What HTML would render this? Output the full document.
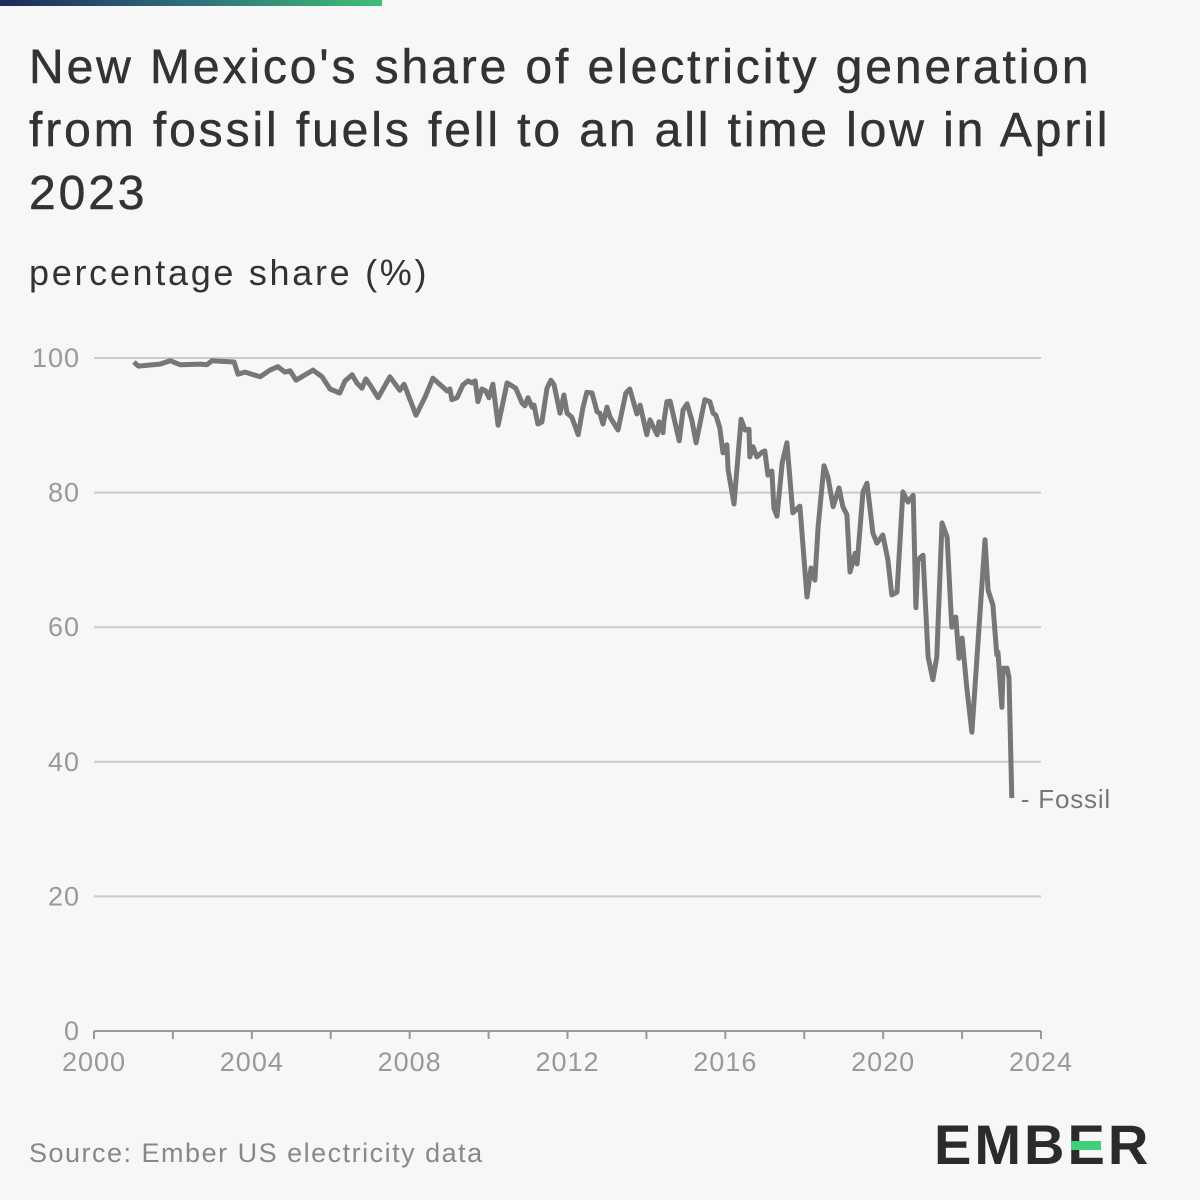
<!DOCTYPE html>
<html><head><meta charset="utf-8">
<style>
body{margin:0;background:#f7f7f7;font-family:"Liberation Sans",sans-serif;}
#wrap{position:relative;width:1200px;height:1200px;overflow:hidden;background:#f7f7f7;}
.t{position:absolute;white-space:nowrap;}
</style></head><body>
<div id="wrap">
<div style="position:absolute;left:0;top:0;width:382px;height:6px;background:linear-gradient(90deg,#1e2a5a,#2f6f7a,#3fbf74);"></div>
<div class="t" style="left:29px;top:36px;font-size:48px;line-height:63px;color:#333;letter-spacing:2.9px;-webkit-text-stroke:0.5px #333;">New Mexico's share of electricity generation<br>from fossil fuels fell to an all time low in April<br>2023</div>
<div class="t" style="left:29px;top:252px;font-size:36px;color:#333;letter-spacing:2.7px;">percentage share (%)</div>
<svg id="chart" width="1200" height="1200" style="position:absolute;left:0;top:0;"></svg>
<div class="t" style="left:29px;top:1138px;font-size:27px;color:#888;letter-spacing:1.5px;">Source: Ember US electricity data</div>
<div class="t" style="left:934px;top:1112px;font-size:56px;font-weight:bold;color:#2b2b2b;letter-spacing:3px;">EMB<span style="position:relative;">E<span style="position:absolute;left:4px;top:28px;width:30px;height:9px;background:#3fd17a;"></span></span>R</div>
</div>
<script>
const yearOffsets=[1.01,1.12,1.67,1.93,2.18,2.69,2.86,2.99,3.55,3.65,3.83,4.21,4.46,4.66,4.84,4.97,5.12,5.35,5.55,5.78,5.98,6.23,6.36,6.54,6.66,6.79,6.89,7.02,7.20,7.50,7.75,7.86,8.16,8.39,8.59,8.95,9.02,9.07,9.20,9.35,9.48,9.58,9.66,9.73,9.83,9.93,10.01,10.11,10.24,10.47,10.69,10.85,10.92,11.00,11.10,11.15,11.25,11.35,11.48,11.58,11.66,11.81,11.91,11.99,12.11,12.27,12.39,12.49,12.62,12.75,12.82,12.90,13.00,13.08,13.28,13.48,13.58,13.76,13.84,14.01,14.09,14.27,14.32,14.42,14.44,14.52,14.60,14.83,14.93,15.03,15.15,15.26,15.48,15.61,15.69,15.76,15.86,15.94,16.04,16.07,16.22,16.40,16.50,16.60,16.62,16.70,16.80,16.93,17.00,17.08,17.18,17.23,17.31,17.44,17.56,17.71,17.89,18.07,18.17,18.27,18.35,18.50,18.60,18.73,18.88,18.98,19.08,19.16,19.29,19.34,19.49,19.59,19.74,19.84,19.99,20.12,20.22,20.35,20.50,20.63,20.76,20.83,20.88,21.01,21.14,21.26,21.36,21.49,21.62,21.74,21.84,21.92,22.00,22.12,22.25,22.58,22.66,22.78,22.88,22.91,23.01,23.04,23.14,23.19,23.26];
const fossilShare=[99.4,98.8,99.1,99.6,99.0,99.1,99.0,99.6,99.4,97.6,97.9,97.2,98.2,98.7,97.9,98.1,96.7,97.5,98.2,97.2,95.4,94.8,96.6,97.5,96.3,95.5,96.9,95.8,94.1,97.2,95.2,96.1,91.5,94.2,97.0,95.1,95.4,93.8,94.1,96.0,96.6,96.3,96.6,93.5,95.4,95.1,94.1,96.1,90.0,96.3,95.5,93.3,92.9,94.1,92.7,93.0,90.2,90.5,95.5,96.7,96.0,91.8,94.5,91.8,91.2,88.6,92.6,94.9,94.8,92.0,91.8,90.2,92.7,91.2,89.3,94.8,95.4,91.7,93.0,88.6,90.8,88.6,90.5,88.9,90.5,93.5,93.6,87.7,92.3,93.2,90.8,87.4,93.8,93.5,91.8,91.5,89.6,85.9,87.1,83.4,78.3,90.9,89.3,89.4,85.3,86.8,85.3,86.0,86.2,82.6,83.2,77.7,76.5,84.4,87.4,77.0,78.0,64.5,68.8,67.0,74.9,84.0,82.3,77.9,80.7,77.9,76.7,68.2,71.0,69.4,80.1,81.4,74.0,72.5,73.7,70.0,64.8,65.2,80.1,78.6,79.6,62.9,70.0,70.7,55.6,52.2,55.6,75.5,73.4,60.0,61.5,55.4,58.4,51.0,44.4,73.0,65.5,63.3,55.9,56.3,48.1,53.9,53.9,52.5,34.6];
const yTicks=[0,20,40,60,80,100];
const xTicks=[2000,2004,2008,2012,2016,2020,2024];
const seriesLabel="Fossil";

const NS="http://www.w3.org/2000/svg";
const svg=document.getElementById('chart');
const X0=94,X1=1041,Y0=1031,Y1=358;
const xs=yr=>X0+(yr-2000)/24*(X1-X0);
const ys=v=>Y0-v/100*(Y0-Y1);
function mk(tag,attrs){const e=document.createElementNS(NS,tag);for(const k in attrs)e.setAttribute(k,attrs[k]);svg.appendChild(e);return e;}
yTicks.forEach(v=>{
  if(v>0){const g=mk('line',{x1:X0,x2:X1,y1:ys(v),y2:ys(v),stroke:'#cccccc','stroke-width':2});
  
  }
  const t=mk('text',{x:80,y:ys(v)+9,'text-anchor':'end','font-size':27,fill:'#999','font-family':'Liberation Sans, sans-serif','letter-spacing':1});
  t.textContent=v;
  
  
});
const ax=mk('line',{x1:X0,x2:X1,y1:Y0,y2:Y0,stroke:'#999','stroke-width':2});


for(let y=2000;y<=2024;y+=2){
  const tk=mk('line',{x1:xs(y),x2:xs(y),y1:Y0,y2:Y0+8,stroke:'#999','stroke-width':2});
  
  
}
xTicks.forEach(y=>{
  const t=mk('text',{x:xs(y),y:1071,'text-anchor':'middle','font-size':27,fill:'#999','font-family':'Liberation Sans, sans-serif','letter-spacing':1});
  t.textContent=y;
  
  
});
const d=yearOffsets.map((o,i)=>(i?'L':'M')+xs(2000+o).toFixed(1)+','+ys(fossilShare[i]).toFixed(1)).join(' ');
const p=mk('path',{d:d,fill:'none',stroke:'#777','stroke-width':5,'stroke-linejoin':'round'});


const lastI=yearOffsets.length-1;
const lb=mk('text',{x:xs(2000+yearOffsets[lastI])+9,y:ys(fossilShare[lastI])+10,'font-size':26,fill:'#777','font-family':'Liberation Sans, sans-serif','letter-spacing':0.8});
lb.textContent='- '+seriesLabel;


</script>
</body></html>
